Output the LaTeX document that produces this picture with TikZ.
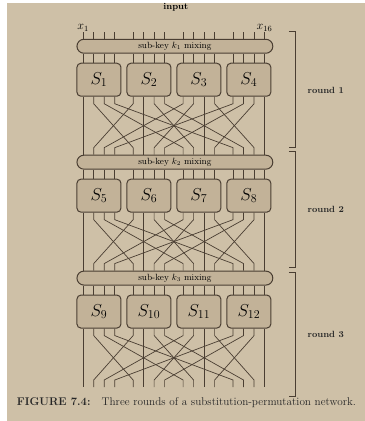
\documentclass[tikz,border=0pt]{standalone}
\usepackage{amsmath}
\usepackage{tikz}
\usetikzlibrary{calc}
\definecolor{page}{RGB}{206,192,167}
\definecolor{ink}{RGB}{74,62,50}
\definecolor{boxfill}{RGB}{194,178,152}
\tikzset{
	sbox/.style={draw=ink,fill=boxfill,rounded corners=4pt,line width=1pt,minimum width=44pt,minimum height=33pt,inner sep=0pt,font=\LARGE},
	mixbar/.style={draw=ink,fill=boxfill,rounded corners=7pt,line width=1pt,minimum width=196pt,minimum height=14pt,inner sep=0pt,font=\small},
	wire/.style={draw=ink,line width=0.7pt},
	bracket/.style={draw=ink,line width=0.8pt},
	rlabel/.style={font=\small\bfseries,text=black!85}
}

\begin{document}
\begin{tikzpicture}[x=1pt,y=-1pt]
	\fill[white] (0,0) rectangle (365,421);
	\fill[page] (7,3) rectangle (365,421);

	% input positions
	\foreach \p in {1,...,16}{
		\pgfmathsetmacro\xp{99+50*floor((\p-1)/4)+10.5*(mod(\p-1,4)-1.5)}
		\coordinate (x\p) at (\xp,32);
	}
	\node[font=\small\bfseries] (input) at (176,7) {input};
	\node[anchor=south,font=\large,inner sep=1pt] (lx1) at (x1) {$x_1$};
	\node[anchor=south,font=\large,inner sep=1pt] (lx16) at (x16) {$x_{16}$};

	% mixing bars and s-boxes
	\foreach \r/\y in {1/46,2/162,3/278}{
		\node[mixbar] (mix\r) at (175,\y) {sub-key $k_{\r}$ mixing};
		\foreach \j in {1,...,4}{
			\pgfmathtruncatemacro\n{4*(\r-1)+\j}
			\node[sbox] (s\n) at ({99+50*(\j-1)},\y+33.5) {$S_{\n}$};
		}
	}
	\coordinate (land1) at (mix2.north);
	\coordinate (land2) at (mix3.north);
	\coordinate (land3) at (175,387);

	\foreach \p in {1,...,16}
		\draw[wire] (x\p) -- (x\p |- mix1.north);

	% wires into the s-boxes, then the bit permutation
	\foreach \r in {1,2,3}{
		\foreach \p in {1,...,16}{
			\pgfmathtruncatemacro\n{4*(\r-1)+floor((\p-1)/4)+1}
			\pgfmathtruncatemacro\q{4*mod(\p-1,4)+floor((\p-1)/4)+1}
			\draw[wire] (x\p |- mix\r.south) -- (x\p |- s\n.north);
			\draw[wire] (x\p |- s\n.south) -- ++(0,7) -- ($(x\q |- land\r)+(0,-7)$) -- (x\q |- land\r);
		}
	}

	% rounds
	\draw[bracket] (289,31) -- (296,31) -- (296,147) -- (289,147);
	\draw[bracket] (289,151) -- (296,151) -- (296,267) -- (289,267);
	\draw[bracket] (289,272) -- (296,272) -- (296,396) -- (289,396);
	\node[rlabel] (round1) at (326,90) {round 1};
	\node[rlabel] (round2) at (326,209) {round 2};
	\node[rlabel] (round3) at (326,334) {round 3};

	\node[text=black!85,font=\fontsize{11.2}{13}\selectfont] (caption) at (186.5,403) {\textbf{FIGURE 7.4:}\quad Three rounds of a substitution-permutation network.};
\end{tikzpicture}
\end{document}
